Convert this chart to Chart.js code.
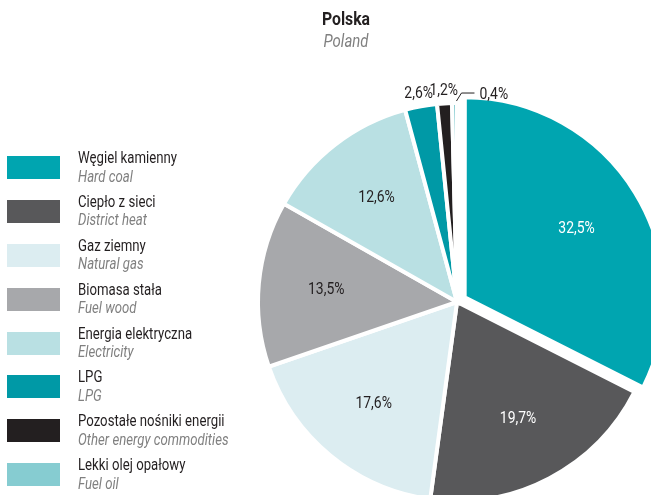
<!DOCTYPE html>
<html lang="pl">
<head>
<meta charset="utf-8">
<script src="https://cdn.jsdelivr.net/npm/chart.js@4.4.1/dist/chart.umd.min.js"></script>
<style>
  html, body { margin: 0; padding: 0; width: 651px; height: 495px; overflow: hidden; background: #fff; }
  body { position: relative; font-family: Roboto, "DejaVu Sans Condensed", sans-serif; color: #231f20; }
  #pie { position: absolute; left: 0; top: 0; }
  .title { position: absolute; left: 246px; top: 8px; width: 200px; text-align: center; line-height: 22px; transform: scaleX(0.83); transform-origin: 50% 0; }
  .title .pl { font-size: 19px; font-weight: bold; }
  .title .en { font-size: 18px; font-style: italic; color: #808080; }
  #legend { position: absolute; left: 7px; top: 150px; }
  .row { position: relative; height: 43.9px; width: 240px; }
  .swatch { position: absolute; left: 0; top: 6px; width: 53px; height: 23px; }
  .txt { position: absolute; left: 71px; top: -1px; font-size: 16.5px; line-height: 18.5px; white-space: nowrap; transform: scaleX(0.8); transform-origin: 0 0; }
  .txt .en { font-style: italic; color: #808080; }
</style>
</head>
<body>
<canvas id="pie" width="651" height="495"></canvas>
<div class="title"><div class="pl">Polska</div><div class="en">Poland</div></div>
<div id="legend"></div>
<script>
// shares of energy carriers, clockwise from the top
const labelsPl = ["Węgiel kamienny", "Ciepło z sieci", "Gaz ziemny", "Biomasa stała", "Energia elektryczna", "LPG", "Pozostałe nośniki energii", "Lekki olej opałowy"];
const labelsEn = ["Hard coal", "District heat", "Natural gas", "Fuel wood", "Electricity", "LPG", "Other energy commodities", "Fuel oil"];
const shares = [32.5, 19.7, 17.6, 13.5, 12.6, 2.6, 1.2, 0.4];
const colors = ["#00a5b0", "#58585a", "#dcedf1", "#a7a8ab", "#b9e0e3", "#0099a6", "#231f20", "#86ccd1"];
const textColors = ["#ffffff", "#ffffff", "#231f20", "#231f20", "#231f20", "#231f20", "#231f20", "#231f20"];

const FONT = 'Roboto, "DejaVu Sans Condensed", sans-serif';
const SQUEEZE = 0.82; // condensed look

// html legend with both languages
const legend = document.getElementById("legend");
labelsPl.forEach((name, i) => {
  const row = document.createElement("div");
  row.className = "row";
  row.innerHTML = `<div class="swatch" style="background:${colors[i]}"></div>
    <div class="txt"><div>${name}</div><div class="en">${labelsEn[i]}</div></div>`;
  legend.appendChild(row);
});

function fmt(v) {
  return v.toFixed(1).replace(".", ",") + "%";
}

function squeezedText(ctx, text, x, y, align) {
  ctx.save();
  ctx.translate(x, y);
  ctx.scale(SQUEEZE, 1);
  ctx.textAlign = align;
  ctx.textBaseline = "middle";
  ctx.fillText(text, 0, 0);
  ctx.restore();
}

// percent labels: inside big slices, outside small ones
const sliceLabels = {
  id: "sliceLabels",
  afterDatasetsDraw(chart) {
    const ctx = chart.ctx;
    const meta = chart.getDatasetMeta(0);
    const offsets = chart.data.datasets[0].offset;
    ctx.save();
    ctx.font = "17px " + FONT;
    meta.data.forEach((arc, i) => {
      const p = arc.getProps(["x", "y", "startAngle", "endAngle", "outerRadius"], true);
      const mid = (p.startAngle + p.endAngle) / 2;
      const shift = (offsets[i] || 0) / 4;
      const cx = p.x + Math.cos(mid) * shift;
      const cy = p.y + Math.sin(mid) * shift;
      const text = fmt(shares[i]);
      if (shares[i] >= 5) {
        const r = p.outerRadius * 0.66;
        ctx.fillStyle = textColors[i];
        squeezedText(ctx, text, cx + Math.cos(mid) * r, cy + Math.sin(mid) * r, "center");
      } else if (shares[i] >= 1) {
        const r = p.outerRadius + 13;
        ctx.fillStyle = "#231f20";
        squeezedText(ctx, text, cx + Math.cos(mid) * r, cy + Math.sin(mid) * r, "center");
      } else {
        // leader line for the tiny slice
        const x0 = cx + Math.cos(mid) * (p.outerRadius + 2) + 2;
        const y0 = cy + Math.sin(mid) * (p.outerRadius + 2);
        const x1 = x0 + 5, y1 = y0 - 8;
        const x2 = x1 + 13;
        ctx.strokeStyle = "#231f20";
        ctx.lineWidth = 1;
        ctx.beginPath();
        ctx.moveTo(x0, y0);
        ctx.lineTo(x1, y1);
        ctx.lineTo(x2, y1);
        ctx.stroke();
        ctx.fillStyle = "#231f20";
        squeezedText(ctx, text, x2 + 5, y1 + 2, "left");
      }
    });
    ctx.restore();
  },
};

new Chart(document.getElementById("pie"), {
  type: "pie",
  data: {
    labels: labelsPl,
    datasets: [
      {
        data: shares,
        backgroundColor: colors,
        borderColor: "#ffffff",
        borderWidth: 4,
        borderJoinStyle: "miter",
        offset: [36, 0, 0, 0, 0, 0, 0, 0],
      },
    ],
  },
  options: {
    responsive: false,
    animation: false,
    events: [],
    radius: 199,
    layout: { padding: { left: 263, right: 0, top: 109, bottom: 0 } },
    plugins: {
      legend: { display: false },
      tooltip: { enabled: false },
      title: { display: false },
    },
  },
  plugins: [sliceLabels],
});
</script>
</body>
</html>
